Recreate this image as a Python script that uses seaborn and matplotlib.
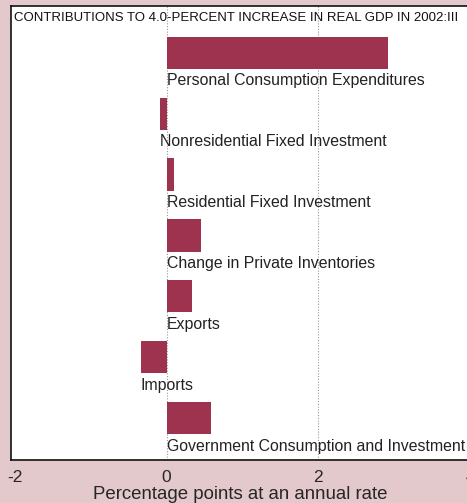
import matplotlib
matplotlib.use("Agg")
import matplotlib.pyplot as plt
import seaborn as sns
import pandas as pd

# contributions to real GDP growth, 2002:III (percentage points)
categories = [
    "Personal Consumption Expenditures",
    "Nonresidential Fixed Investment",
    "Residential Fixed Investment",
    "Change in Private Inventories",
    "Exports",
    "Imports",
    "Government Consumption and Investment",
]
contributions = [2.92, -0.08, 0.10, 0.46, 0.33, -0.34, 0.58]
xticks = [-2, 0, 2, 4]

title = "CONTRIBUTIONS TO 4.0-PERCENT INCREASE IN REAL GDP IN 2002:III"
xlabel = "Percentage points at an annual rate"

bg = "#e3c9cc"
bar_color = "#9e3350"

sns.set_style("white")
plt.rcParams["font.family"] = ["Liberation Sans", "DejaVu Sans"]

df = pd.DataFrame({"category": categories, "value": contributions})

fig = plt.figure(figsize=(4.67, 5.03), dpi=100, facecolor=bg)
ax = fig.add_axes([11 / 467, 1 - 460 / 503, 459 / 467, 454 / 503])
ax.set_facecolor("white")

sns.barplot(data=df, x="value", y="category", color=bar_color, width=0.53,
            saturation=1, linewidth=0, ax=ax, zorder=2)

# dotted reference lines
for xv in [0, 2]:
    ax.axvline(xv, color="#999999", linestyle=(0, (1, 1.5)), linewidth=0.8, zorder=1)

for i, (cat, v) in enumerate(zip(categories, contributions)):
    ax.text(min(0, v), i + 0.46, cat, ha="left", va="center",
            fontsize=11.4, color="#222222", zorder=3)

ax.text(0.006, 0.973, title, transform=ax.transAxes, ha="left", va="center",
        fontsize=9.5, color="#111111")

ax.set_xlim(-2.05, 4.0)
ax.set_ylim(6.69, -0.77)
ax.set_xticks(xticks)
ax.set_xticklabels([str(t) for t in xticks], fontsize=12.5)
ax.tick_params(axis="x", length=0, pad=7)
ax.set_yticks([])
ax.set_ylabel("")
ax.set_xlabel(xlabel, fontsize=13.4, labelpad=1)

for side in ["left", "top", "bottom"]:
    ax.spines[side].set_color("#111111")
    ax.spines[side].set_linewidth(1.2)
ax.spines["right"].set_visible(False)

fig.savefig("out.png", dpi=100, facecolor=bg)
